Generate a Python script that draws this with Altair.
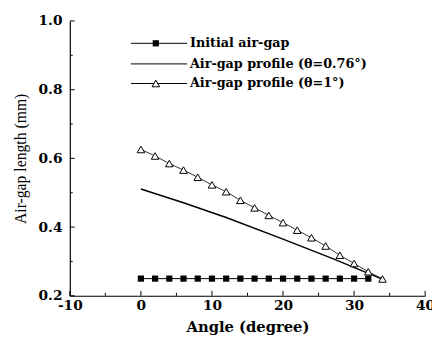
import altair as alt
import pandas as pd

# ---- data ----
angles_sq = [0, 2, 4, 6, 8, 10, 12, 14, 16, 18, 20, 22, 24, 26, 28, 30, 32]
initial_gap = [0.25] * 17

angles_tri = [0, 2, 4, 6, 8, 10, 12, 14, 16, 18, 20, 22, 24, 26, 28, 30, 32, 34]
profile_1 = [0.626, 0.607, 0.585, 0.566, 0.545, 0.523, 0.503, 0.478, 0.456,
             0.434, 0.413, 0.391, 0.369, 0.345, 0.318, 0.294, 0.270, 0.249]

angles_076 = [0, 6, 12, 20, 27, 33.8]
profile_076 = [0.511, 0.471, 0.428, 0.365, 0.308, 0.25]

legend_labels = ["Initial air-gap", "Air-gap profile (θ=0.76°)", "Air-gap profile (θ=1°)"]
x_ticks = [-10, 0, 10, 20, 30, 40]
x_minor = [-5, 5, 15, 25, 35]
y_ticks = [0.2, 0.4, 0.6, 0.8, 1.0]
y_minor = [0.3, 0.5, 0.7, 0.9]

# ---- tables ----
df_sq = pd.DataFrame({"angle": angles_sq, "gap": initial_gap})
df_tri = pd.DataFrame({"angle": angles_tri, "gap": profile_1})
df_076 = pd.DataFrame({"angle": angles_076, "gap": profile_076})
leg = pd.DataFrame({"label": legend_labels, "gap": [0.935, 0.875, 0.818],
                    "x0": [-1.4] * 3, "x1": [6.5] * 3, "xm": [2.1] * 3, "xt": [6.9] * 3})

BOLD = "DejaVu Serif"
xscale = alt.Scale(domain=[-10, 40], nice=False, zero=False)
yscale = alt.Scale(domain=[0.2, 1.0], nice=False, zero=False)
xaxis = alt.Axis(values=x_ticks, ticks=False, grid=False, domainColor="black", domainWidth=1.2,
                 labelFont=BOLD, labelFontWeight="bold", labelFontSize=14, labelColor="black",
                 labelPadding=3, labelFlush=False,
                 labelExpr="datum.value < 0 ? '-' + abs(datum.value) : '' + datum.value",
                 title="Angle (degree)", titleFont=BOLD, titleFontWeight="bold",
                 titleFontSize=15, titleColor="black", titlePadding=7)
yaxis = alt.Axis(values=y_ticks, ticks=False, grid=False, domainColor="black", domainWidth=1.2,
                 labelFont=BOLD, labelFontWeight="bold", labelFontSize=14, labelColor="black",
                 labelPadding=8, labelFlush=False, format=".1f",
                 title="Air-gap length (mm)", titleFont="Liberation Serif", titleFontWeight="normal",
                 titleFontSize=16, titleColor="black", titlePadding=10)


def X(f):
    return alt.X(f, type="quantitative", scale=xscale, axis=xaxis)


def Y(f):
    return alt.Y(f, type="quantitative", scale=yscale, axis=yaxis)


line_sq = alt.Chart(df_sq).mark_line(color="black", strokeWidth=1).encode(x=X("angle"), y=Y("gap"))
pts_sq = alt.Chart(df_sq).mark_point(shape="square", size=40, filled=True, color="black",
                                     opacity=1).encode(x=X("angle"), y=Y("gap"))
line_076 = alt.Chart(df_076).mark_line(color="black", strokeWidth=1.5).encode(x=X("angle"), y=Y("gap"))
line_tri = alt.Chart(df_tri).mark_line(color="black", strokeWidth=0.8).encode(x=X("angle"), y=Y("gap"))
pts_tri = alt.Chart(df_tri).mark_point(shape="triangle-up", size=60, fill="white", stroke="black",
                                       strokeWidth=1, opacity=1, fillOpacity=1).encode(x=X("angle"), y=Y("gap"))

# legend
leg_lines = alt.Chart(leg).mark_rule(color="black", strokeWidth=1).encode(
    x=X("x0"), x2="x1", y=Y("gap"))
leg_sq = alt.Chart(leg.iloc[[0]]).mark_point(shape="square", size=40, filled=True, color="black",
                                             opacity=1).encode(x=X("xm"), y=Y("gap"))
leg_tri = alt.Chart(leg.iloc[[2]]).mark_point(shape="triangle-up", size=60, fill="white", stroke="black",
                                              strokeWidth=1, opacity=1, fillOpacity=1).encode(x=X("xm"), y=Y("gap"))
leg_text = alt.Chart(leg).mark_text(align="left", baseline="middle", font=BOLD, fontWeight="bold",
                                    fontSize=13, color="black").encode(x=X("xt"), y=Y("gap"), text="label")

# inward ticks
yt = pd.DataFrame({"v": y_ticks})
ym = pd.DataFrame({"v": y_minor})
xt = pd.DataFrame({"v": x_ticks})
xm = pd.DataFrame({"v": x_minor})
tick_y = alt.Chart(yt).mark_rule(color="black", strokeWidth=1).encode(y=Y("v"), x=alt.value(0), x2=alt.value(5))
tick_ym = alt.Chart(ym).mark_rule(color="black", strokeWidth=1).encode(y=Y("v"), x=alt.value(0), x2=alt.value(3))
tick_x = alt.Chart(xt).mark_rule(color="black", strokeWidth=1).encode(x=X("v"), y=alt.value(280), y2=alt.value(275))
tick_xm = alt.Chart(xm).mark_rule(color="black", strokeWidth=1).encode(x=X("v"), y=alt.value(280), y2=alt.value(277))

chart = alt.layer(
    line_sq, pts_sq, line_076, line_tri, pts_tri,
    leg_lines, leg_sq, leg_tri, leg_text,
    tick_y, tick_ym, tick_x, tick_xm,
).properties(
    width=362, height=280,
    autosize=alt.AutoSizeParams(type="none"),
    padding={"left": 63, "top": 10, "right": 7, "bottom": 51},
    background="white",
).configure_view(stroke=None)

chart.save("out.html", embed_options={"renderer": "svg", "actions": False})
